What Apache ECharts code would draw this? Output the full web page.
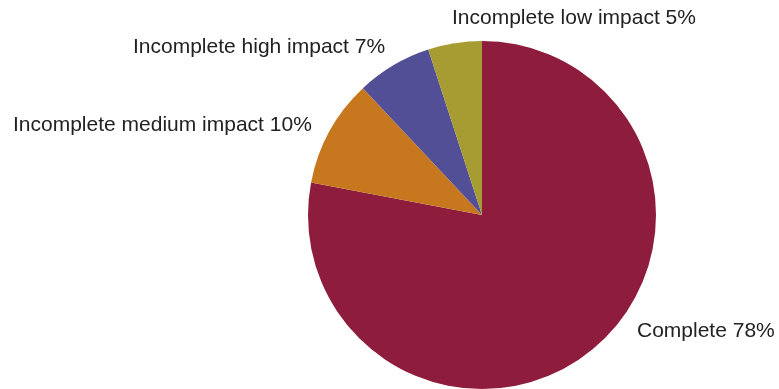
<!DOCTYPE html>
<html>
<head>
<meta charset="utf-8">
<script src="https://cdn.jsdelivr.net/npm/echarts@6/dist/echarts.min.js"></script>
<style>
  html, body { margin: 0; padding: 0; background: #fff; }
  #chart { width: 779px; height: 389px; }
</style>
</head>
<body>
<div id="chart"></div>
<script>
// Completion status shares, clockwise from 12 o'clock
const categories = ['Complete', 'Incomplete medium impact', 'Incomplete high impact', 'Incomplete low impact'];
const shares = [78, 10, 7, 5];

// Slice colours and label anchors (left x, middle y) for each category
const sliceColors = ['#8E1C3C', '#C7781F', '#534F97', '#A69C32'];
const labelAnchors = [[637, 331], [13, 125], [133, 47], [452, 18]];

const chart = echarts.init(document.getElementById('chart'), null, { renderer: 'canvas' });

chart.setOption({
  animation: false,
  series: [{
    type: 'pie',
    center: [482, 215],
    radius: 174,
    startAngle: 90,
    clockwise: true,
    data: categories.map((name, i) => ({
      name: name,
      value: shares[i],
      itemStyle: { color: sliceColors[i] }
    })),
    label: {
      show: true,
      position: 'outside',
      formatter: p => p.name + ' ' + p.value + '%',
      fontFamily: 'Liberation Sans, Arial, sans-serif',
      fontSize: 21,
      color: '#222',
      overflow: 'none'
    },
    labelLine: { show: false },
    labelLayout: params => ({
      x: labelAnchors[params.dataIndex][0],
      y: labelAnchors[params.dataIndex][1],
      align: 'left',
      verticalAlign: 'middle',
      width: 400
    }),
    emphasis: { disabled: true }
  }]
});
</script>
</body>
</html>
